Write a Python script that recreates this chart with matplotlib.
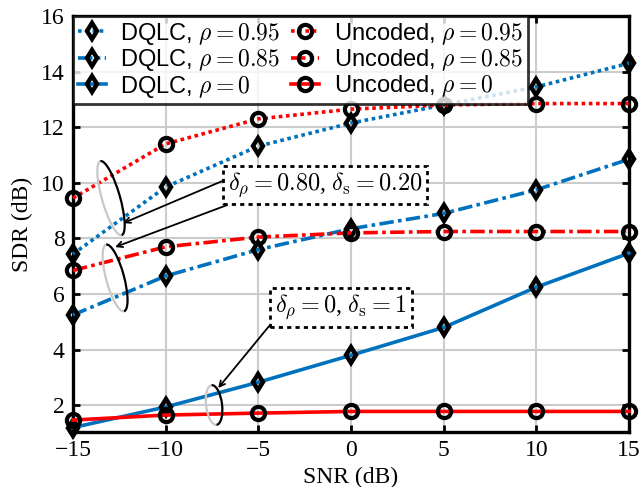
import numpy as np
import matplotlib
matplotlib.use("Agg")
import matplotlib.pyplot as plt
from matplotlib import transforms
from matplotlib.patches import Arc

plt.rcParams['font.family'] = ['Liberation Serif', 'DejaVu Serif']
plt.rcParams['mathtext.fontset'] = 'cm'

snr = [-15, -10, -5, 0, 5, 10, 15]

# DQLC curves
dqlc_095 = [7.44, 9.85, 11.32, 12.15, 12.80, 13.45, 14.30]
dqlc_085 = [5.25, 6.65, 7.60, 8.35, 8.90, 9.75, 10.85]
dqlc_0 = [1.20, 1.94, 2.83, 3.80, 4.80, 6.25, 7.47]

# uncoded curves
unc_095 = [9.45, 11.40, 12.30, 12.65, 12.80, 12.85, 12.85]
unc_085 = [6.85, 7.70, 8.05, 8.20, 8.25, 8.25, 8.25]
unc_0 = [1.47, 1.65, 1.72, 1.78, 1.78, 1.78, 1.78]

labels_dqlc = [r'DQLC, $\rho = 0.95$', r'DQLC, $\rho = 0.85$', r'DQLC, $\rho = 0$']
labels_unc = [r'Uncoded, $\rho = 0.95$', r'Uncoded, $\rho = 0.85$', r'Uncoded, $\rho = 0$']

blue = '#0072BD'
red = '#FF0000'
styles = [(0, (1, 1)), (0, (4, 1.2, 1, 1.2)), '-']

fig = plt.figure(figsize=(6.41, 4.87), dpi=100)
ax = fig.add_axes([0.1139, 0.1129, 0.8675, 0.8543])

handles = []
for ys, lab, ls in zip([dqlc_095, dqlc_085, dqlc_0], labels_dqlc, styles):
    h, = ax.plot(snr, ys, color=blue, ls=ls, lw=2.6, marker='d', ms=8,
                 mfc='none', mec='k', mew=3.2, label=lab, clip_on=False, zorder=3)
    handles.append(h)
for ys, lab, ls in zip([unc_095, unc_085, unc_0], labels_unc, styles):
    h, = ax.plot(snr, ys, color=red, ls=ls, lw=2.6, marker='o', ms=9.5,
                 mfc='none', mec='k', mew=3, label=lab, clip_on=False, zorder=3)
    handles.append(h)

ax.set_xlim(-15, 15)
ax.set_ylim(1.04, 16)
ax.set_xticks(range(-15, 16, 5))
ax.set_yticks(range(2, 17, 2))
ax.grid(True, color='#cccccc', lw=1.5)
ax.set_axisbelow(True)
ax.tick_params(direction='in', length=5, width=2, labelsize=17, top=True, right=True, pad=6)
for s in ax.spines.values():
    s.set_linewidth(2.4)
ax.set_xlabel('SNR (dB)', fontsize=17, labelpad=4)
ax.set_ylabel('SDR (dB)', fontsize=17, labelpad=6)

leg = ax.legend(handles=handles, ncol=2, loc='upper left', bbox_to_anchor=(0, 1),
                prop={'family': ['Liberation Sans', 'DejaVu Sans'], 'size': 17},
                fancybox=False, edgecolor='k', framealpha=0.8, borderaxespad=0,
                handlelength=1.2, handletextpad=0.6, labelspacing=0.02,
                columnspacing=0.45, borderpad=0.2)
leg.get_frame().set_linewidth(2.0)

# annotation boxes
box = dict(boxstyle='square,pad=0.2', fc='white', ec='k', ls=(0, (1.5, 1.5)), lw=2)
ax.text(-1.40, 9.92, r'$\delta_\rho = 0.80$, $\delta_{\rm s} = 0.20$', fontsize=17.5,
        ha='center', va='center', bbox=box, zorder=5)
ax.text(-0.54, 5.53, r'$\delta_\rho = 0$, $\delta_{\rm s} = 1$', fontsize=17.5,
        ha='center', va='center', bbox=box, zorder=5)

arrows = [((-6.96, 10.06), (-12.30, 8.55)),
          ((-6.69, 9.20), (-12.73, 7.69)),
          ((-4.42, 4.85), (-7.17, 2.62))]
for start, end in arrows:
    ax.annotate('', xy=end, xytext=start,
                arrowprops=dict(arrowstyle='->', color='k', lw=1.3,
                                shrinkA=0, shrinkB=0), zorder=4)

# ellipses marking curve groups (size in inches)
ellipses = [(-12.95, 9.45, 0.18, 0.77, 16),
            (-12.73, 6.58, 0.18, 0.69, 15),
            (-7.39, 2.01, 0.16, 0.40, 7)]
for xc, yc, w, h, ang in ellipses:
    trans = fig.dpi_scale_trans + transforms.ScaledTranslation(xc, yc, ax.transData)
    ax.add_patch(Arc((0, 0), w, h, angle=ang, theta1=90, theta2=270,
                     transform=trans, color='#c8c8c8', lw=1.6, zorder=4))
    ax.add_patch(Arc((0, 0), w, h, angle=ang, theta1=-90, theta2=90,
                     transform=trans, color='k', lw=1.6, zorder=4))

fig.savefig('out.png', dpi=100)
